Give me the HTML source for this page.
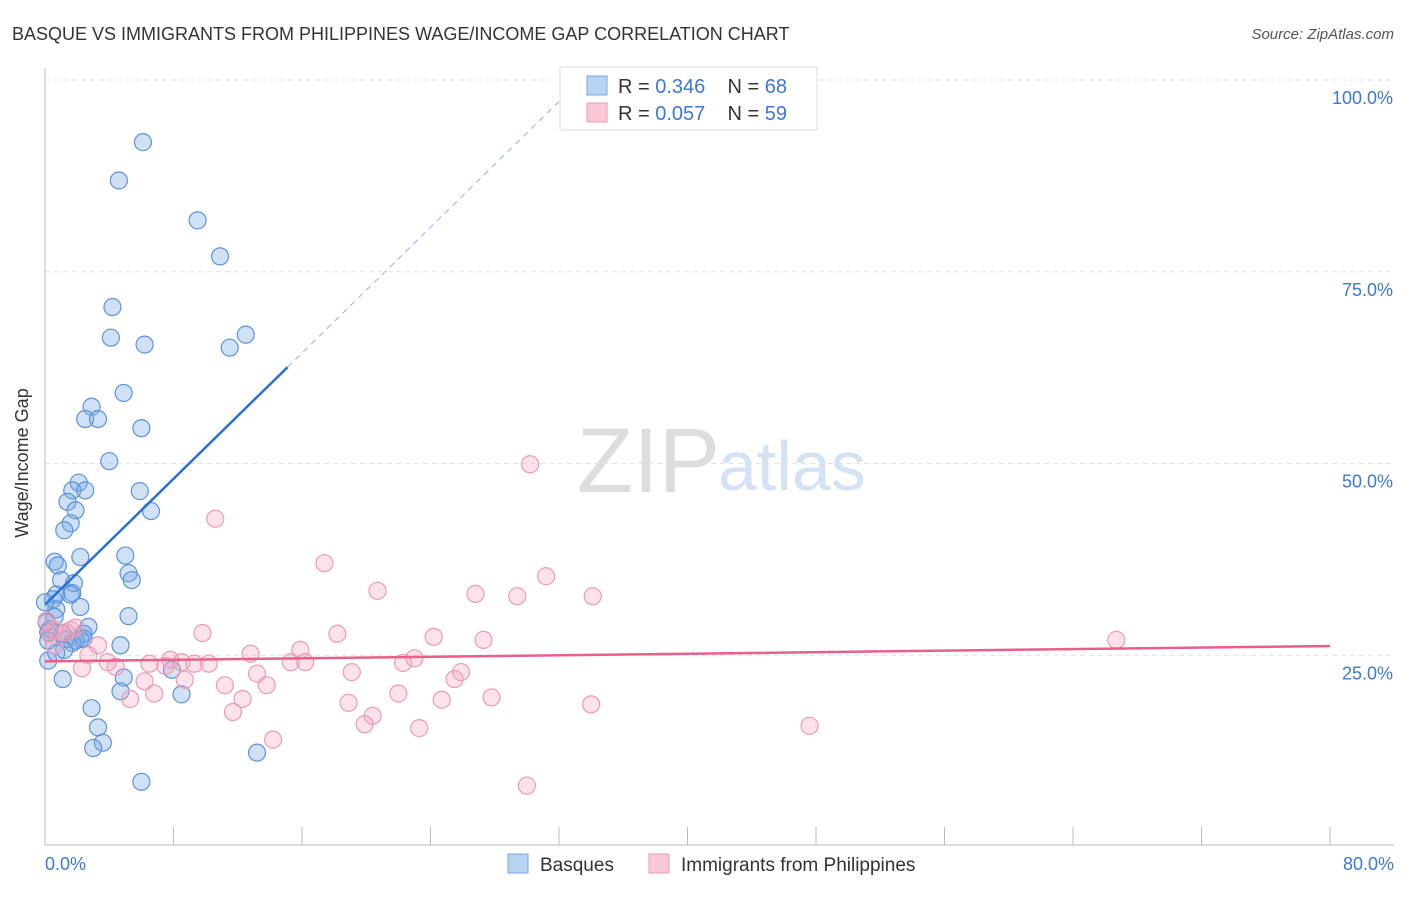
<!DOCTYPE html>
<html><head><meta charset="utf-8"><style>
body{margin:0;background:#fff;font-family:"Liberation Sans",sans-serif;}
svg text{font-family:"Liberation Sans",sans-serif;}
</style></head><body>
<svg id="chart" width="1406" height="892">
<text x="12" y="40" font-size="18" fill="#333">BASQUE VS IMMIGRANTS FROM PHILIPPINES WAGE/INCOME GAP CORRELATION CHART</text>
<text x="1394" y="39" font-size="15" fill="#555" text-anchor="end" font-style="italic">Source: ZipAtlas.com</text>
<text x="720" y="492" font-size="92" fill="#ddd" text-anchor="end" font-family="Liberation Serif">ZIP</text>
<text x="718" y="490" font-size="70" fill="#d4e2f4">atlas</text>
<g id="grid"></g>
<line x1="45" y1="68" x2="45" y2="845" stroke="#bbb"/>
<line x1="45" y1="845" x2="1394" y2="845" stroke="#bbb"/>
<g id="xticks"></g>
<text x="20" y="455" font-size="18" fill="#333" text-anchor="middle" transform="rotate(-90 28 455)">Wage/Income Gap</text>
<text x="45" y="870" font-size="18" fill="#3b78d8">0.0%</text>
<text x="1394" y="870" font-size="18" fill="#3b78d8" text-anchor="end">80.0%</text>
<g id="pts"></g>
<g id="lines"></g>
<g>
<rect x="560" y="67" width="257" height="63" fill="#fff" stroke="#ddd"/>
<rect x="587" y="76" width="20" height="19" fill="#b8d2f2" stroke="#7aa6e0"/>
<rect x="587" y="103" width="20" height="19" fill="#f9c8d6" stroke="#eb9ab3"/>
<text x="618" y="93" font-size="20" fill="#333">R = <tspan fill="#3b78d8">0.346</tspan>&#160;&#160;&#160;&#160;N = <tspan fill="#3b78d8">68</tspan></text>
<text x="618" y="120" font-size="20" fill="#333">R = <tspan fill="#3b78d8">0.057</tspan>&#160;&#160;&#160;&#160;N = <tspan fill="#3b78d8">59</tspan></text>
</g>
<g>
<rect x="508" y="854" width="20" height="19" fill="#b8d2f2" stroke="#7aa6e0"/>
<text x="540" y="871" font-size="19" fill="#333">Basques</text>
<rect x="649" y="854" width="20" height="19" fill="#f9c8d6" stroke="#eb9ab3"/>
<text x="681" y="871" font-size="19" fill="#333">Immigrants from Philippines</text>
</g>
</svg>
<script>
const yTicks=[25,50,75,100];
const yTickLabels=["25.0%","50.0%","75.0%","100.0%"];
const xTicks=[0,8,16,24,32,40,48,56,64,72,80];
const basqueX=[6.1,4.6,9.5,10.9,4.2,4.1,6.2,12.5,11.5,4.9,2.9,2.5,3.3,6.0,4.0,2.1,1.7,2.5,5.9,1.4,1.9,6.6,1.6,1.2,2.2,0.6,5.0,0.8,5.2,5.4,1.0,1.8,1.7,1.6,0.7,0.5,2.2,0.7,0.6,5.2,0.3,2.7,0.2,2.4,2.2,1.3,1.7,1.9,4.7,0.2,0.7,4.9,4.7,2.9,3.3,3.6,3.0,13.2,6.0,8.5,7.9,1.1,0.0,0.1,0.2,1.1,1.2,2.4];
const basqueY=[91.9,86.9,81.7,77.0,70.4,66.4,65.5,66.8,65.1,59.2,57.4,55.8,55.8,54.6,50.3,47.5,46.5,46.5,46.4,45.0,43.9,43.8,42.2,41.3,37.8,37.2,38.0,36.7,35.7,34.8,34.8,34.4,33.1,32.9,32.9,32.3,31.3,31.0,30.0,30.1,28.4,28.7,26.9,27.8,27.1,27.1,26.6,26.9,26.3,24.3,25.3,22.1,20.3,18.1,15.6,13.6,12.9,12.3,8.5,19.9,23.1,21.9,31.9,29.3,28.0,27.8,25.7,27.2];
const philX=[30.2,10.6,17.4,20.7,26.8,29.4,31.2,34.1,66.7,18.2,9.8,24.2,27.3,15.9,12.8,7.8,3.3,2.7,3.9,6.5,7.5,8.5,9.3,10.2,15.3,16.2,22.3,23.0,19.1,13.2,11.2,13.8,6.2,8.7,2.3,4.4,25.9,25.5,5.3,6.8,12.3,22.0,27.8,34.0,47.6,18.9,24.7,11.7,20.4,19.9,23.3,14.2,30.0,0.3,0.6,1.6,1.3,1.9,0.1,0.6];
const philY=[49.9,42.8,37.0,33.4,33.0,32.7,35.3,32.7,27.0,27.8,27.9,27.4,27.0,25.7,25.2,24.4,26.3,25.0,24.1,23.9,23.6,24.1,23.9,23.9,24.1,24.1,24.0,24.6,22.8,22.6,21.1,21.1,21.6,21.8,23.3,23.5,22.8,21.9,19.3,20.0,19.3,20.0,19.5,18.6,15.8,18.8,19.2,17.6,17.1,16.0,15.5,14.0,8.0,27.8,28.3,28.3,28.0,28.6,29.5,26.3];
const basqueTrend=[31.6,2.05];
const philTrend=[24.2,0.025];
const NS="http://www.w3.org/2000/svg";
const X=v=>45+v/80*1285, Y=v=>847-v*7.67;
function mk(tag,attrs,parent){const e=document.createElementNS(NS,tag);for(const k in attrs)e.setAttribute(k,attrs[k]);document.getElementById(parent).appendChild(e);return e;}
yTicks.forEach((t,i)=>{
 const l=mk('line',{x1:45,x2:1394,y1:Y(t),y2:Y(t),stroke:'#e2e2e2','stroke-dasharray':'5,4'},'grid');
 
 
 const tx=mk('text',{x:1393,y:Y(t)+24,'font-size':18,fill:'#3b78d8','text-anchor':'end'},'grid');
 tx.textContent=yTickLabels[i];
 
 
});
xTicks.forEach(t=>{
 const l=mk('line',{x1:X(t),x2:X(t),y1:827,y2:845,stroke:'#bbb'},'xticks');
 
 
});
basqueX.forEach((x,i)=>{
 const c=mk('circle',{cx:X(x),cy:Y(basqueY[i]),r:8.5,fill:'rgba(120,170,230,0.35)',stroke:'#5b93dc','stroke-width':1.2},'pts');
 
 
});
philX.forEach((x,i)=>{
 const c=mk('circle',{cx:X(x),cy:Y(philY[i]),r:8.5,fill:'rgba(245,160,185,0.3)',stroke:'#ec9bb4','stroke-width':1.2},'pts');
 
 
});
const bx1=15.1, bx2=(100-basqueTrend[0])/basqueTrend[1];
let l=mk('line',{x1:X(0),y1:Y(basqueTrend[0]),x2:X(bx1),y2:Y(basqueTrend[0]+basqueTrend[1]*bx1),stroke:'#2a6fd6','stroke-width':2.5},'lines');


l=mk('line',{x1:X(bx1),y1:Y(basqueTrend[0]+basqueTrend[1]*bx1),x2:X(bx2),y2:Y(100),stroke:'#8fb3e6','stroke-width':1,'stroke-dasharray':'6,5'},'lines');


l=mk('line',{x1:X(0),y1:Y(philTrend[0]),x2:X(80),y2:Y(philTrend[0]+philTrend[1]*80),stroke:'#e8608a','stroke-width':2.5},'lines');


</script>
</body></html>
